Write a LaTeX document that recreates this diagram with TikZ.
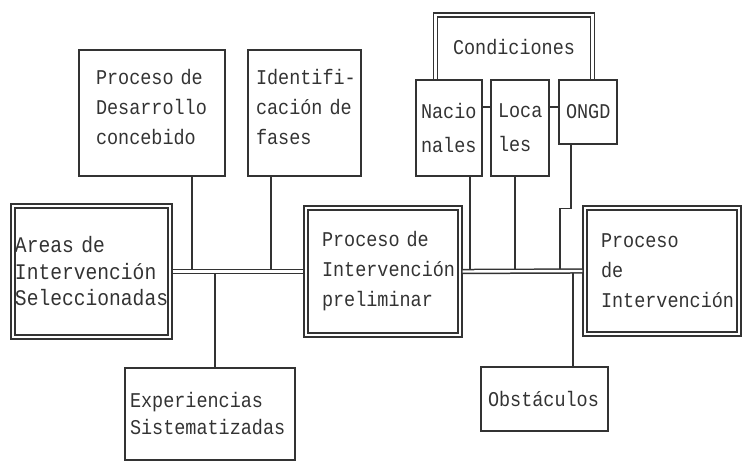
\documentclass[tikz,border=0pt]{standalone}
\usepackage{fontspec}
\setmainfont{Liberation Mono}[FakeStretch=0.88]

\begin{document}
\begin{tikzpicture}[x=1pt, y=-1pt,
    box/.style={draw=black!80, line width=1.5pt, align=left, inner ysep=0pt,
        text=black!80, font=\fontsize{21}{30}\selectfont},
    dbox/.style={box, double, line width=1.7pt, double distance=2pt, outer sep=2.7pt},
    wire/.style={draw=black!80, line width=1.5pt},
    bus/.style={wire, double, double distance=2.4pt}]
    \useasboundingbox (0,0) rectangle (742,462);
    \node[box, minimum width=146pt, minimum height=126pt, text width=112pt, inner xsep=17pt, text depth=72pt] (des) at (152,113) {Proceso~de\\Desarrollo\\concebido};
    \node[box, minimum width=113pt, minimum height=126pt, text width=97pt, inner xsep=8pt, text depth=72pt] (ide) at (304.5,113) {\mbox{Identifi-}\\cación~de\\fases};
    \node[dbox, minimum width=157pt, minimum height=131pt, text width=153pt, inner xsep=2pt,
        font=\fontsize{22.3}{26.5}\selectfont] (are) at (91.5,271.5) {Areas~de\\Intervención\\Seleccionadas};
    \node[dbox, minimum width=154pt, minimum height=127pt, text width=122pt, inner xsep=16pt] (pre) at (383,271.5) {Proceso~de\\Intervención\\preliminar};
    \node[dbox, minimum width=154pt, minimum height=126pt, text width=122pt, inner xsep=16pt] (int) at (662,271) {Proceso\\de\\Intervención};
    \node[box, minimum width=170pt, minimum height=92pt, text width=160pt, inner xsep=5pt,
        font=\fontsize{21}{27}\selectfont] (exp) at (210,414) {Experiencias\\Sistematizadas};
    \node[box, minimum width=127pt, minimum height=64pt, text width=113pt, inner xsep=7pt] (obs) at (544.5,399) {Obstáculos};
    \node[box, minimum width=66pt, minimum height=96pt, text width=56pt, inner xsep=5pt,
        font=\fontsize{21}{34}\selectfont] (nac) at (449,128) {Nacio\\nales};
    \node[box, minimum width=58pt, minimum height=96pt, text width=44pt, inner xsep=7pt,
        font=\fontsize{21}{34}\selectfont] (loc) at (520,128) {Loca\\les};
    \node[box, minimum width=58pt, minimum height=64pt, text width=44pt, inner xsep=7pt] (ong) at (588,112) {ONGD};
    \node[text=black!80, font=\fontsize{21}{30}\selectfont, minimum width=157pt, minimum height=65pt, outer sep=0pt] (cnd) at (514,47.5) {Condiciones};
    \draw[wire]
    ([xshift=40pt]des.south) -- ([xshift=40pt]des.south |- are.east)
    ([xshift=-33.5pt]ide.south) -- ([xshift=-33.5pt]ide.south |- are.east)
    ([xshift=5pt]exp.north) -- ([xshift=5pt]exp.north |- are.east)
    ([xshift=21pt]nac.south) -- ([xshift=21pt]nac.south |- pre.east)
    ([xshift=-5pt]loc.south) -- ([xshift=-5pt]loc.south |- pre.east)
    ([xshift=-17pt]ong.south) -- ++(0,64) -| ([xshift=-28pt]ong.south |- int.west)
    ([xshift=28.5pt]obs.north) -- ([xshift=28.5pt]obs.north |- int.west)
    ([yshift=21pt]nac.east) -- ([yshift=21pt]nac.east -| loc.west)
    ([yshift=21pt]loc.east) -- ([yshift=21pt]loc.east -| ong.west);
    \draw[bus] (are.east) -- (pre.west);
    \draw[bus] (pre.east) -- (int.west);
    \draw[bus] (cnd.west |- nac.north) -- (cnd.north west) -- (cnd.north east) -- (cnd.east |- ong.north);
\end{tikzpicture}
\end{document}
